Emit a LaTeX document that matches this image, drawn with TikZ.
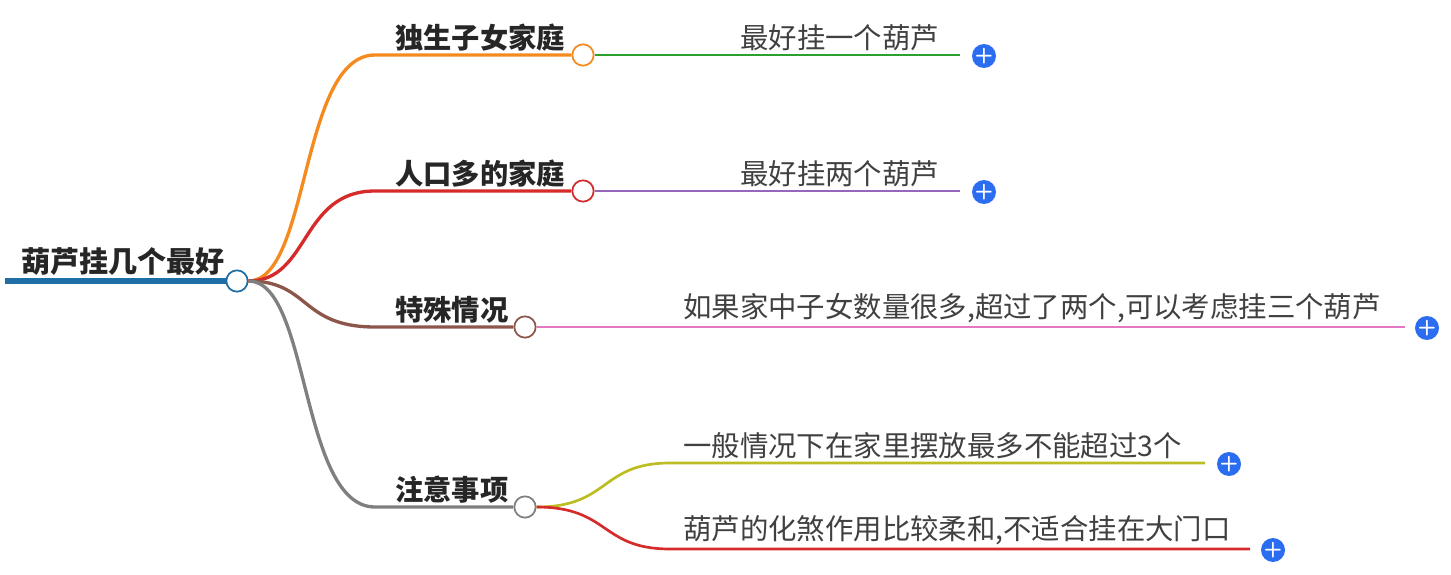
\documentclass[tikz,border=0pt]{standalone}
\usepackage{fontspec}
\newfontfamily\cjk{Noto Sans CJK SC}
\definecolor{rootc}{HTML}{1F6FA6}
\definecolor{orc}{HTML}{F58B1F}
\definecolor{redc}{HTML}{D62B2B}
\definecolor{brc}{HTML}{8C564B}
\definecolor{grc}{HTML}{7F7F7F}
\definecolor{gnc}{HTML}{2CA02C}
\definecolor{puc}{HTML}{9467BD}
\definecolor{pkc}{HTML}{E377C2}
\definecolor{olc}{HTML}{BCBD22}
\definecolor{plc}{HTML}{2B6DF0}
\tikzset{
 lab/.style={anchor=south west,inner sep=0pt,font=\cjk\fontsize{21.2}{22}\selectfont\bfseries,text=black!85},
 leaf/.style={anchor=south west,inner sep=0pt,font=\cjk\fontsize{21.3}{22}\selectfont,text=black!75},
 dot/.style={circle,draw,fill=white,line width=1.3pt,minimum size=16pt,inner sep=0pt},
 plus/.style={circle,fill=plc,minimum size=17pt,inner sep=0pt,text=white,font=\sffamily\bfseries\fontsize{16}{16}\selectfont},
}
\begin{document}
\begin{tikzpicture}[x=0.75pt,y=-0.75pt]
\useasboundingbox (0,0) rectangle (1451,574);
% root
\draw[rootc,line width=4pt] (5,281) -- (228,281);
\node[lab,font=\cjk\fontsize{21.8}{22}\selectfont\bfseries] (root) at (21,276) {葫芦挂几个最好};
\node[dot,draw=rootc] (r) at (237,281) {};
% branches
\node[dot,draw=orc] (b1) at (583,55) {};
\node[dot,draw=redc] (b2) at (583,191) {};
\node[dot,draw=brc] (b3) at (525,327) {};
\node[dot,draw=grc] (b4) at (525,507) {};
\coordinate (c1) at (375,55);\coordinate (c2) at (375,191);
\coordinate (c3) at (375,327);\coordinate (c4) at (375,507);
\draw[orc,line width=2.5pt] (r.east) .. controls (310,281) and (300,55) .. (c1) -- (b1.west);
\draw[redc,line width=2.5pt] (r.east) .. controls (310,281) and (300,191) .. (c2) -- (b2.west);
\draw[brc,line width=2.5pt] (r.east) .. controls (310,281) and (300,327) .. (c3) -- (b3.west);
\draw[grc,line width=2.5pt] (r.east) .. controls (310,281) and (300,507) .. (c4) -- (b4.west);
\node[lab] (t1) at (395,52) {独生子女家庭};
\node[lab] (t2) at (395,188) {人口多的家庭};
\node[lab] (t3) at (395,324) {特殊情况};
\node[lab] (t4) at (395,504) {注意事项};
% leaves
\coordinate (e1) at (960,55);\coordinate (e2) at (960,191);\coordinate (e3) at (1405,327);
\draw[gnc,line width=1.3pt] (b1.east) -- (e1);
\draw[puc,line width=1.3pt] (b2.east) -- (e2);
\draw[pkc,line width=1.3pt] (b3.east) -- (e3);
\node[leaf] (l1) at (740,51) {最好挂一个葫芦};
\node[leaf] (l2) at (740,187) {最好挂两个葫芦};
\node[leaf] (l3) at (683,323) {如果家中子女数量很多,超过了两个,可以考虑挂三个葫芦};
\coordinate (f1) at (670,463);\coordinate (g1) at (1205,463);
\coordinate (f2) at (670,549);\coordinate (g2) at (1250,549);
\draw[olc,line width=2pt] (b4.east) .. controls (610,507) and (600,463) .. (f1) -- (g1);
\draw[redc,line width=2pt] (b4.east) .. controls (610,507) and (600,549) .. (f2) -- (g2);
\node[leaf] (l4) at (683,459) {一般情况下在家里摆放最多不能超过3个};
\node[leaf] (l5) at (683,545) {葫芦的化煞作用比较柔和,不适合挂在大门口};
\node[plus] (p1) at (984,56) {+};
\node[plus] (p2) at (984,192) {+};
\node[plus] (p3) at (1427,328) {+};
\node[plus] (p4) at (1229,464) {+};
\node[plus] (p5) at (1273,550) {+};
\end{tikzpicture}
\end{document}
